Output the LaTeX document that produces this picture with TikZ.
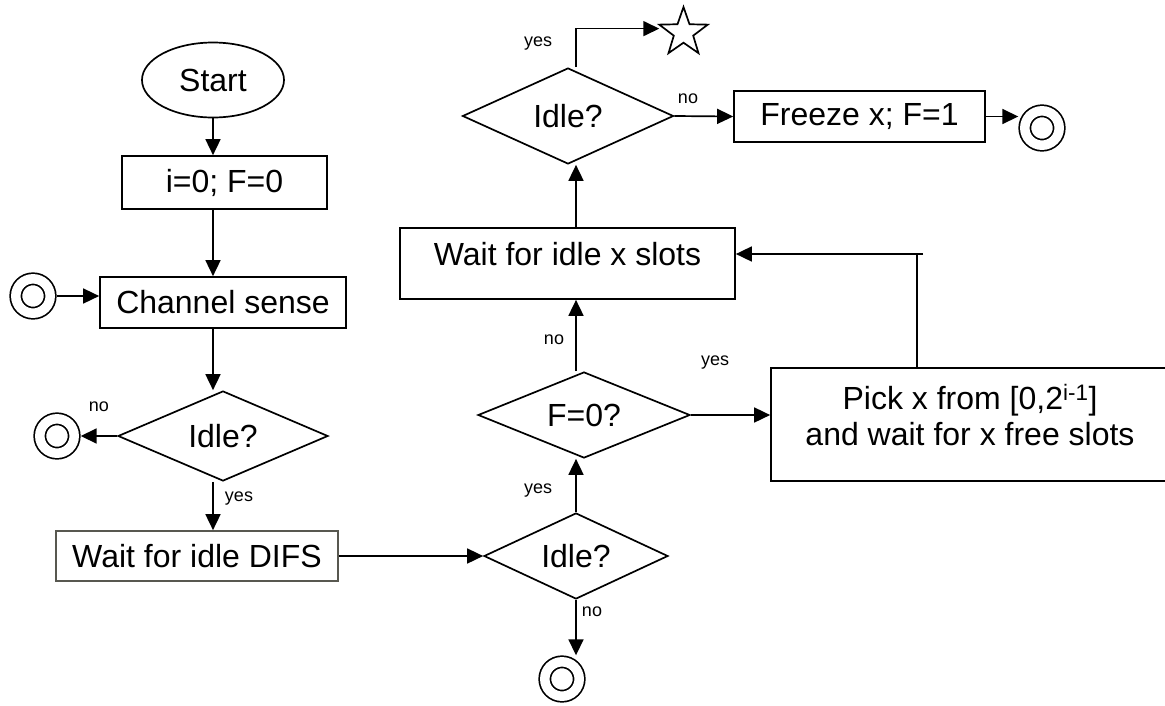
\documentclass[tikz,border=0pt]{standalone}
\usepackage{fontspec}
\setmainfont{Liberation Sans}
\usetikzlibrary{shapes.geometric,arrows.meta}
\definecolor{difsgray}{RGB}{88,88,80}
\newcommand{\flowFont}{\fontsize{32}{36}\selectfont}
\newcommand{\tagFont}{\fontsize{18}{21}\selectfont}

\begin{document}
\begin{tikzpicture}[x=1pt,y=-1pt,line width=1.7pt,
  stepbox/.style={draw, rectangle, inner sep=0pt, font=\flowFont},
  decide/.style={draw, diamond, aspect=2, inner sep=0pt, font=\flowFont},
  stopmark/.style={draw, circle, double, double distance=9.5pt, minimum size=34.4pt, inner sep=0pt, outer sep=6.5pt},
  tag/.style={inner sep=0pt, font=\tagFont},
  flow/.style={-{Triangle[length=16pt,width=15pt]}}]
\useasboundingbox (0,0) rectangle (1165,705);
\node[draw, ellipse, minimum width=142pt, minimum height=75pt, font=\flowFont] (start) at (213,80) {Start};
\node[stepbox, minimum width=205pt, minimum height=53pt] (init) at (224.5,182.5) {i=0; F=0};
\node[stepbox, minimum width=246pt, minimum height=51pt] (sense) at (223,302.5) {Channel sense};
\node[decide, minimum width=210pt, minimum height=90pt] (idleA) at (223,436) {Idle?};
\node[stepbox, draw=difsgray, minimum width=282pt, minimum height=50pt] (difs) at (197,556) {Wait for idle DIFS};
\node[decide, minimum width=184pt, minimum height=86pt] (idleB) at (576,556) {Idle?};
\node[decide, minimum width=212pt, minimum height=86pt] (fzero) at (584,415) {F=0?};
\node[stepbox, minimum width=335pt, minimum height=71pt, text depth=20pt] (waitx) at (567.5,263.5) {Wait for idle x slots};
\node[stepbox, minimum width=398pt, minimum height=113pt, align=center, text depth=20pt] (pick) at (970,424.5) {Pick x from [0,2\textsuperscript{i-1}]\\and wait for x free slots};
\node[decide, minimum width=211pt, minimum height=96pt] (idleC) at (568,116) {Idle?};
\node[stepbox, minimum width=251pt, minimum height=51pt] (freeze) at (859.5,116.5) {Freeze x; F=1};
\node[draw, star, star points=5, star point ratio=2.5, minimum size=51pt, inner sep=0pt, outer sep=0pt] (goal) at (683.5,32.5) {};
\node[stopmark] (endA) at (33,296) {};
\node[stopmark] (endB) at (57,436) {};
\node[stopmark] (endC) at (562,679) {};
\node[stopmark] (endD) at (1042,128) {};
\coordinate (loopC) at (923,254);
\node[tag] (noA) at (99,407) {no};
\node[tag] (yesA) at (239,499) {yes};
\node[tag] (noB) at (592,612) {no};
\node[tag] (yesB) at (538,491) {yes};
\node[tag] (noF) at (554,340) {no};
\node[tag] (yesF) at (715,363) {yes};
\node[tag] (noC) at (688,99) {no};
\node[tag] (yesC) at (538,44) {yes};
\draw[flow] (start) -- (start |- init.north);
\draw[flow] (init.south -| start) -- (start |- sense.north);
\draw[flow] (sense.south -| start) -- (start |- idleA.north);
\draw[flow] (idleA.south -| start) -- (start |- difs.north);
\draw[flow] (idleA.west) -- (endB.east);
\draw[flow] (endA.east) -- (endA.east -| sense.west);
\draw[flow] (difs.east) -- (idleB.west);
\draw[flow] (idleB.north) -- (idleB |- fzero.south);
\draw[flow] (idleB.south) -- (idleB.south |- endC.north);
\draw[flow] (fzero.north -| idleB) -- (idleB |- waitx.south);
\draw[flow] (fzero.east) -- (fzero.east -| pick.west);
\draw ([xshift=-53pt]pick.north) -- ([xshift=-53pt]pick.north |- loopC);
\draw[flow] (loopC) -- (loopC -| waitx.east);
\draw[flow] (waitx.north -| idleB) -- (idleB |- idleC.south);
\draw[flow] (idleC.north -| idleB) |- ([yshift=-4pt]goal.outer point 2);
\draw[flow] (idleC.east) -- (freeze.west);
\draw[flow] (freeze.east) -- (freeze.east -| endD.west);
\end{tikzpicture}
\end{document}
